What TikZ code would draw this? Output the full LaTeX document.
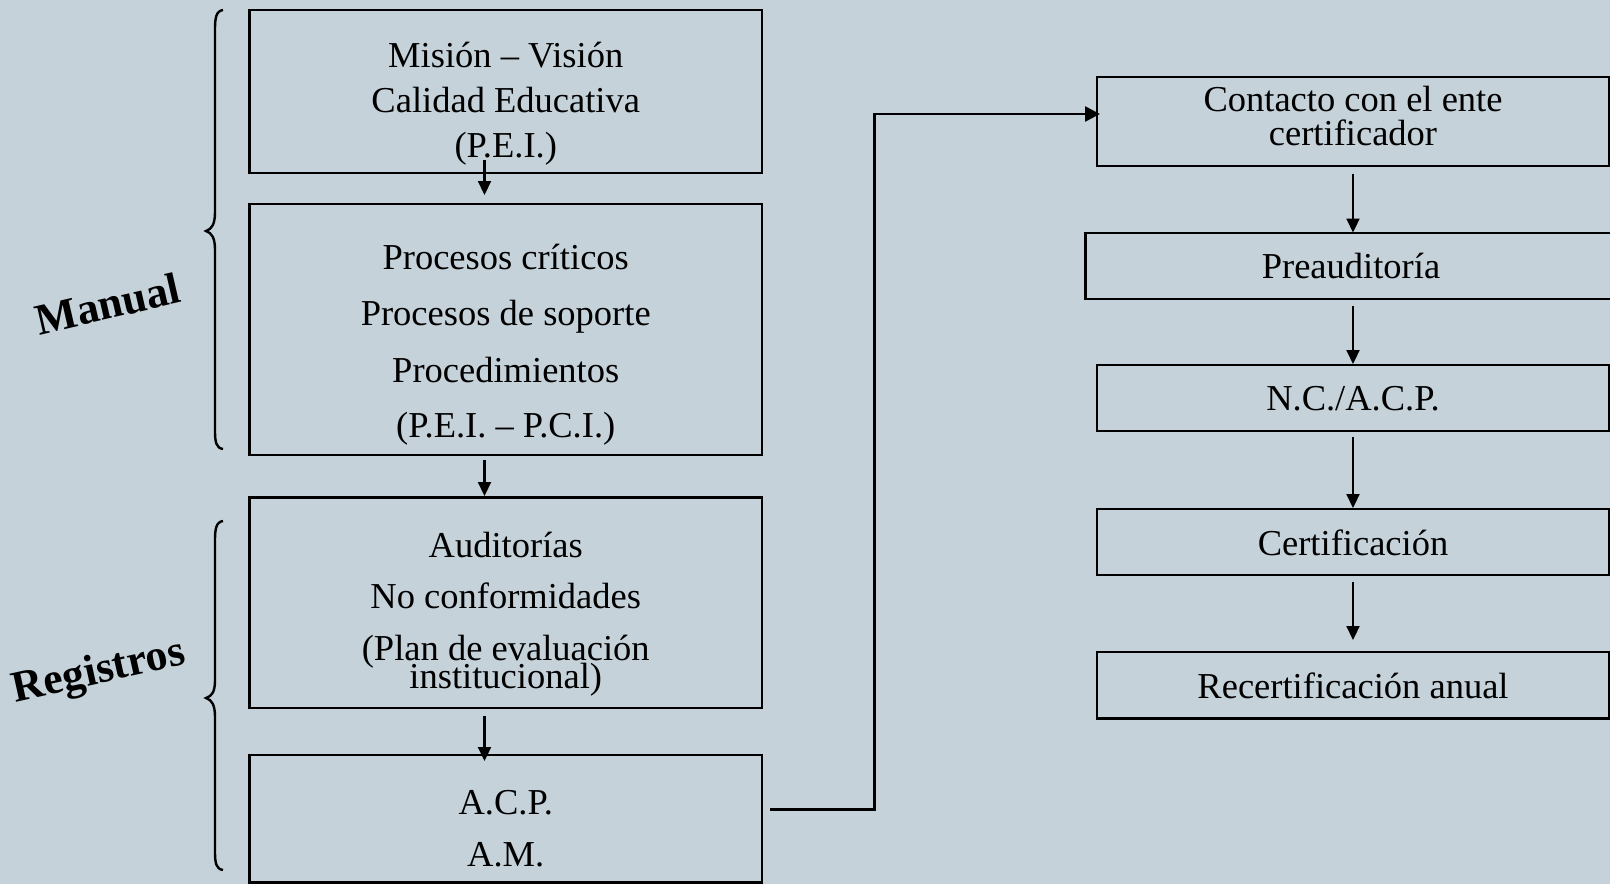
\documentclass[tikz,border=0pt]{standalone}
\usepackage{fontspec}
\setmainfont{Liberation Serif}
\usetikzlibrary{arrows.meta}
\definecolor{bgc}{RGB}{197,210,217}
\tikzset{
  x=1pt, y=-1pt,
  box/.style={draw=black, line width=2.7pt, inner sep=0pt, outer sep=0pt, rectangle},
  txt/.style={font=\fontsize{36.5}{40}\selectfont, anchor=base, inner sep=0pt},
  lbl/.style={font=\fontsize{44}{48}\selectfont\bfseries, inner sep=0pt},
  arr/.style={line width=2.2pt, -{Triangle[length=14pt,width=13pt]}},
  conn/.style={line width=2.6pt},
  brc/.style={line width=2.4pt}
}
\begin{document}
\begin{tikzpicture}
\useasboundingbox (0,0) rectangle (1610,884);
\fill[bgc] (0,0) rectangle (1610,884);
\clip (0,0) rectangle (1610,884);

% left column boxes
\node[box, minimum width=512.5pt, minimum height=163pt] (B1) at (505.75,91.5) {};
\node[box, minimum width=512.5pt, minimum height=251pt] (B2) at (505.75,329.5) {};
\node[box, minimum width=512.5pt, minimum height=210.5pt] (B3) at (505.75,602.75) {};
\node[box, minimum width=512.5pt, minimum height=127.5pt] (B4) at (505.75,818.75) {};

% right column boxes
\node[box, minimum width=512pt, minimum height=89pt] (R1) at (1353,121.5) {};
\node[box, minimum width=526.5pt, minimum height=66pt] (R2) at (1348.75,266) {};
\node[box, minimum width=512pt, minimum height=66pt] (R3) at (1353,398) {};
\node[box, minimum width=512pt, minimum height=66pt] (R4) at (1353,542) {};
\node[box, minimum width=512pt, minimum height=66.5pt] (R5) at (1353,685.25) {};

% texts, left
\node[txt] (t1a) at (505.75,67) {Misión – Visión};
\node[txt] (t1b) at (505.75,112) {Calidad Educativa};
\node[txt] (t1c) at (505.75,157) {(P.E.I.)};
\node[txt] (t2a) at (505.75,269) {Procesos críticos};
\node[txt] (t2b) at (505.75,325) {Procesos de soporte};
\node[txt] (t2c) at (505.75,382) {Procedimientos};
\node[txt] (t2d) at (505.75,437) {(P.E.I. – P.C.I.)};
\node[txt] (t3a) at (505.75,557) {Auditorías};
\node[txt] (t3b) at (505.75,608.5) {No conformidades};
\node[txt] (t3c) at (505.75,660) {(Plan de evaluación};
\node[txt] (t3d) at (505.75,688.5) {institucional)};
\node[txt] (t4a) at (505.75,814.5) {A.C.P.};
\node[txt] (t4b) at (505.75,866.5) {A.M.};

% texts, right
\node[txt] (s1a) at (1353,111.7) {Contacto con el ente};
\node[txt] (s1b) at (1353,145) {certificador};
\node[txt] (s2) at (1351,278.3) {Preauditoría};
\node[txt] (s3) at (1353,410.7) {N.C./A.C.P.};
\node[txt] (s4) at (1353,555) {Certificación};
\node[txt] (s5) at (1353,698.3) {Recertificación anual};

% left arrows
\draw[arr] ([xshift=-21.25pt,yshift=13pt]B1.south) -- ([xshift=-21.25pt,yshift=9pt]B2.north);
\draw[arr] ([xshift=-21.25pt,yshift=-5pt]B2.south) -- ([xshift=-21.25pt,yshift=1.5pt]B3.north);
\draw[arr] ([xshift=-21.25pt,yshift=-8pt]B3.south) -- ([xshift=-21.25pt,yshift=-6pt]B4.north);

% right arrows
\draw[arr] ([yshift=-7.5pt]R1.south) -- ([xshift=4.25pt,yshift=0.5pt]R2.north);
\draw[arr] ([xshift=4.25pt,yshift=-7pt]R2.south) -- ([yshift=1pt]R3.north);
\draw[arr] ([yshift=-6pt]R3.south) -- ([yshift=1pt]R4.north);
\draw[arr] ([yshift=-7pt]R4.south) -- ([yshift=12pt]R5.north);

% connector
\coordinate (bend) at (874.3,114);
\draw[conn, -{Triangle[length=15pt,width=15pt]}] ([xshift=8pt,yshift=9.5pt]B4.east) -| (bend) -- ([xshift=3pt,yshift=7.5pt]R1.west);

% braces
\draw[brc] (223,10) .. controls (216,11) and (215,18) .. (215,30) -- (215,212)
  .. controls (215,224) and (212,229) .. (206,231)
  .. controls (212,233) and (215,238) .. (215,250) -- (215,430)
  .. controls (215,442) and (216,448) .. (223,449);
\draw[brc] (223,521) .. controls (216,522) and (215,529) .. (215,541) -- (215,680)
  .. controls (215,692) and (212,696) .. (206,698)
  .. controls (212,700) and (215,705) .. (215,717) -- (215,851)
  .. controls (215,863) and (216,869) .. (223,870);

% labels
\node[lbl, rotate=13] (lman) at (108,304) {Manual};
\node[lbl, rotate=12.5] (lreg) at (99,673) {Registros};
\end{tikzpicture}
\end{document}
